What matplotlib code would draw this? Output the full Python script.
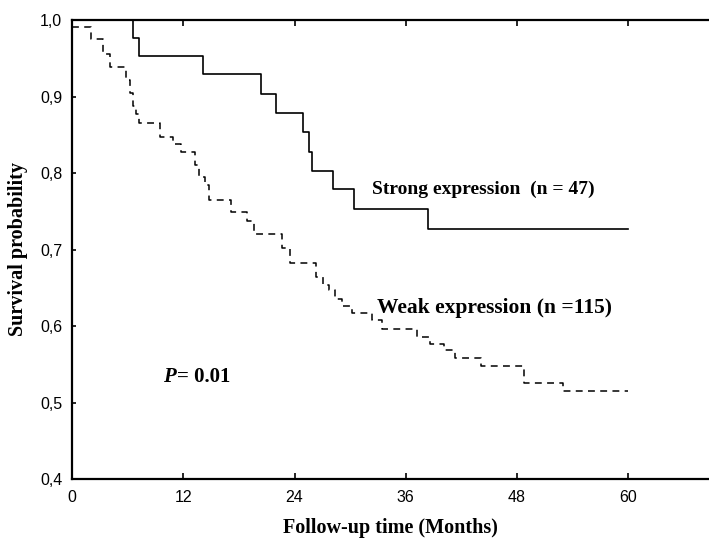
import numpy as np
import matplotlib.pyplot as plt
from matplotlib.ticker import FuncFormatter

# Kaplan-Meier step data (months, survival)
strong_t = [0, 6.55, 7.2, 14.1, 20.4, 22.0, 24.9, 25.6, 25.9, 28.2, 30.4, 38.4, 60]
strong_s = [1.0, 0.977, 0.953, 0.930, 0.903, 0.878, 0.854, 0.828, 0.802, 0.779, 0.753, 0.727, 0.727]

weak_t = [0, 2.0, 3.3, 4.1, 5.85, 6.25, 6.55, 6.85, 7.25, 9.5, 10.9, 11.8, 13.3, 13.7,
          14.3, 14.8, 17.1, 18.9, 19.6, 22.6, 23.5, 26.3, 27.1, 27.7, 28.4, 29.1, 30.2,
          32.4, 33.4, 37.2, 38.6, 40.1, 41.3, 44.1, 48.8, 53.0, 60]
weak_s = [0.991, 0.975, 0.956, 0.939, 0.922, 0.905, 0.888, 0.877, 0.866, 0.847, 0.838,
          0.828, 0.810, 0.795, 0.784, 0.765, 0.749, 0.737, 0.720, 0.702, 0.682, 0.664,
          0.654, 0.647, 0.635, 0.626, 0.617, 0.608, 0.596, 0.586, 0.577, 0.569, 0.558,
          0.548, 0.525, 0.515, 0.515]

xticks = [0, 12, 24, 36, 48, 60]
yticks = [0.4, 0.5, 0.6, 0.7, 0.8, 0.9, 1.0]

serif = "Liberation Serif"
sans = "Liberation Sans"

fig = plt.figure(figsize=(7.09, 5.43), dpi=100)
ax = fig.add_axes([72 / 709, 64 / 543, 637 / 709, 459 / 543])

ax.step(strong_t, strong_s, where="post", color="black", lw=1.2)
weak_line, = ax.step(weak_t, weak_s, where="post", color="black", lw=1.1)
weak_line.set_dashes((4.5, 3.5))

ax.set_xlim(0, 68.7)
ax.set_ylim(0.4, 1.0)
ax.set_xticks(xticks)
ax.set_yticks(yticks)
ax.yaxis.set_major_formatter(FuncFormatter(lambda v, p: f"{v:.1f}".replace(".", ",")))

ax.spines["right"].set_visible(False)
for side in ["left", "bottom", "top"]:
    ax.spines[side].set_linewidth(1.6)

ax.tick_params(axis="x", which="major", direction="in", top=True, length=4, width=1.2,
               pad=8, labelsize=11.5)
ax.tick_params(axis="y", which="major", direction="in", length=3, width=1.2,
               pad=7, labelsize=11.5)
for lab in ax.get_xticklabels() + ax.get_yticklabels():
    lab.set_family(sans)

ax.set_xlabel("Follow-up time (Months)", fontfamily=serif, fontweight="bold",
              fontsize=14.5, labelpad=9)
ax.set_ylabel("Survival probability", fontfamily=serif, fontweight="bold",
              fontsize=14.5, labelpad=9)

ax.text(32.4, 0.778, "Strong expression  (n = 47)", fontfamily=serif, fontweight="bold",
        fontsize=14, va="center", ha="left")
ax.text(32.9, 0.624, "Weak expression (n =115)", fontfamily=serif, fontweight="bold",
        fontsize=15.5, va="center", ha="left")
ax.text(9.8, 0.533, "P", fontfamily=serif, fontweight="bold",
        fontstyle="italic", fontsize=15, va="center", ha="left")
ax.text(11.3, 0.533, "= 0.01", fontfamily=serif, fontweight="bold",
        fontsize=15, va="center", ha="left")

fig.savefig("out.png", dpi=100)
